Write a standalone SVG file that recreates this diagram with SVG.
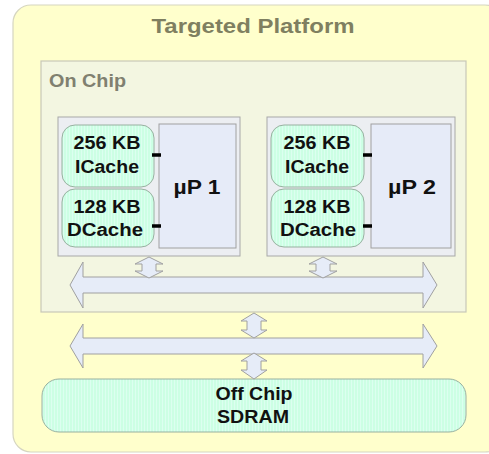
<svg xmlns="http://www.w3.org/2000/svg" width="489" height="454" viewBox="0 0 489 454">
  <defs>
    <pattern id="mint" width="3" height="4" patternUnits="userSpaceOnUse">
      <rect width="3" height="4" fill="#ccffe4"/>
      <rect width="1" height="4" fill="#dcfff0"/>
    </pattern>
    <style>
      text { font-family: "Liberation Sans", Arial, sans-serif; font-weight: bold; text-anchor: middle; }
      .title { font-size: 21px; fill: #7f7f60; }
      .label { font-size: 18px; fill: #808070; text-anchor: start; }
      .cache-t { font-size: 18px; fill: #111; }
      .cpu-t { font-size: 20px; fill: #111; }
      .platform { fill: #ffffcc; stroke: #d6d6c0; stroke-width: 1.2; }
      .chip { fill: #f3f6e1; stroke: #c8c8b8; stroke-width: 1.2; }
      .pbox { fill: #eceef2; stroke: #a8a8a8; stroke-width: 1; }
      .cpu { fill: #e6ebf8; stroke: #a0a0a0; stroke-width: 1; }
      .cache { fill: url(#mint); stroke: #98b0a0; stroke-width: 1; }
      .bus { fill: #e6ecf8; stroke: #a0a0a0; stroke-width: 1; stroke-linejoin: miter; }
      .stub { stroke: #000; stroke-width: 3.5; }
    </style>
  </defs>

  <!-- platform frame -->
  <g id="platform">
    <rect class="platform" x="13" y="5" width="490" height="447" rx="18"/>
    <text class="title" x="253" y="33" textLength="203" lengthAdjust="spacingAndGlyphs">Targeted Platform</text>
  </g>

  <!-- on-chip area -->
  <g id="on-chip">
    <rect class="chip" x="41" y="61" width="425" height="251"/>
    <text class="label" x="49" y="87" textLength="77" lengthAdjust="spacingAndGlyphs">On Chip</text>
  </g>

  <!-- processor 1 -->
  <g id="proc1">
    <rect class="pbox" x="58" y="117" width="182" height="139"/>
    <rect class="cpu" x="159" y="124" width="77" height="124"/>
    <text class="cpu-t" x="197" y="194" textLength="47" lengthAdjust="spacingAndGlyphs">µP 1</text>
  </g>
  <g id="icache1">
    <rect class="cache" x="62" y="125" width="92" height="62" rx="13"/>
    <text class="cache-t" x="107" y="149" textLength="67" lengthAdjust="spacingAndGlyphs">256 KB</text>
    <text class="cache-t" x="107" y="173" textLength="64" lengthAdjust="spacingAndGlyphs">ICache</text>
  </g>
  <g id="dcache1">
    <rect class="cache" x="62" y="189" width="92" height="58" rx="13"/>
    <text class="cache-t" x="107" y="213" textLength="67" lengthAdjust="spacingAndGlyphs">128 KB</text>
    <text class="cache-t" x="105" y="236" textLength="76" lengthAdjust="spacingAndGlyphs">DCache</text>
  </g>

  <!-- processor 2 -->
  <g id="proc2">
    <rect class="pbox" x="267" y="117" width="188" height="139"/>
    <rect class="cpu" x="371" y="124" width="80" height="124"/>
    <text class="cpu-t" x="412" y="194" textLength="48" lengthAdjust="spacingAndGlyphs">µP 2</text>
  </g>
  <g id="icache2">
    <rect class="cache" x="271" y="125" width="93" height="62" rx="13"/>
    <text class="cache-t" x="317" y="149" textLength="67" lengthAdjust="spacingAndGlyphs">256 KB</text>
    <text class="cache-t" x="317" y="173" textLength="64" lengthAdjust="spacingAndGlyphs">ICache</text>
  </g>
  <g id="dcache2">
    <rect class="cache" x="271" y="189" width="93" height="58" rx="13"/>
    <text class="cache-t" x="317" y="213" textLength="67" lengthAdjust="spacingAndGlyphs">128 KB</text>
    <text class="cache-t" x="318" y="236" textLength="76" lengthAdjust="spacingAndGlyphs">DCache</text>
  </g>

  <!-- off-chip memory -->
  <g id="sdram">
    <rect class="cache" x="42" y="379" width="424" height="53" rx="17"/>
    <text class="cache-t" x="254" y="400" textLength="77" lengthAdjust="spacingAndGlyphs">Off Chip</text>
    <text class="cache-t" x="253" y="423" textLength="72" lengthAdjust="spacingAndGlyphs">SDRAM</text>
  </g>

  <!-- buses, links and cache ports -->
  <g id="connectors">
    <line class="stub" x1="152" y1="155" x2="161" y2="155"/>
    <line class="stub" x1="152" y1="226" x2="161" y2="226"/>
    <line class="stub" x1="363" y1="155" x2="372" y2="155"/>
    <line class="stub" x1="363" y1="226" x2="372" y2="226"/>

    <!-- on-chip bus -->
    <path class="bus" d="M70,285 L83,262 L83,277 L423,277 L423,262 L437,285 L423,308 L423,293 L83,293 L83,308 Z"/>
    <!-- system bus -->
    <path class="bus" d="M70,346 L83,324 L83,338 L423,338 L423,324 L437,346 L423,368 L423,354 L83,354 L83,368 Z"/>

    <!-- processor to on-chip bus -->
    <path class="bus" d="M149,257 L163,264 L156,264 L156,271 L163,271 L149,278 L135,271 L142,271 L142,264 L135,264 Z"/>
    <path class="bus" d="M323,257 L337,264 L330,264 L330,271 L337,271 L323,278 L309,271 L316,271 L316,264 L309,264 Z"/>

    <!-- on-chip bus to system bus -->
    <path class="bus" d="M254,313 L267,321 L261,321 L261,330 L267,330 L254,338 L241,330 L247,330 L247,321 L241,321 Z"/>
    <!-- system bus to SDRAM -->
    <path class="bus" d="M254,353 L267,361 L261,361 L261,370 L267,370 L254,379 L241,370 L247,370 L247,361 L241,361 Z"/>
  </g>
</svg>
